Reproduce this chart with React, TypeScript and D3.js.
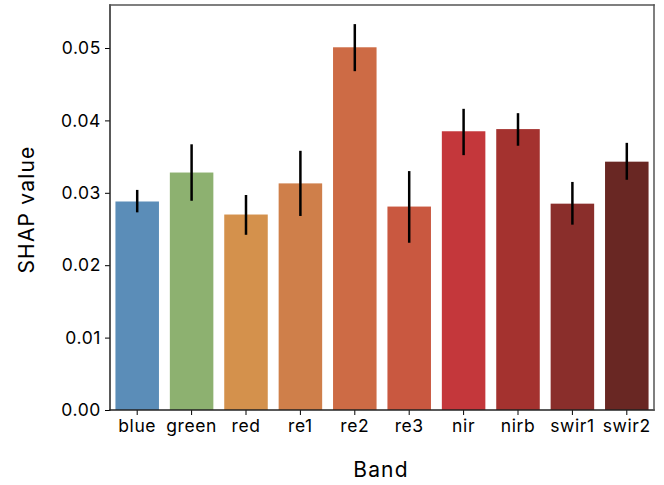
import React, { useRef, useEffect } from "react";
import * as d3 from "d3";

const bands = ["blue", "green", "red", "re1", "re2", "re3", "nir", "nirb", "swir1", "swir2"];
const shapValues = [0.0288, 0.0328, 0.027, 0.0313, 0.0501, 0.0281, 0.0385, 0.0388, 0.0285, 0.0343];
const errLow = [0.0273, 0.0289, 0.0242, 0.0268, 0.0468, 0.0231, 0.0352, 0.0365, 0.0256, 0.0318];
const errHigh = [0.0304, 0.0367, 0.0297, 0.0358, 0.0533, 0.033, 0.0416, 0.041, 0.0315, 0.0369];
const barColors = ["#5b8db8", "#8db170", "#d4914c", "#cf7f4a", "#cd6b45", "#c95840", "#c4373b", "#a4322f", "#8a2e2b", "#692723"];
const yTicks = [0, 0.01, 0.02, 0.03, 0.04, 0.05];

const W = 664;
const H = 485;
const MARGIN = { top: 5, right: 10, bottom: 75, left: 110 };
const FONT = "Inter, 'DejaVu Sans', sans-serif";

export default function App() {
  const ref = useRef<SVGSVGElement>(null);

  useEffect(() => {
    const svg = d3.select(ref.current);
    svg.selectAll("*").remove();

    const innerW = W - MARGIN.left - MARGIN.right;
    const innerH = H - MARGIN.top - MARGIN.bottom;

    const x = d3.scaleBand().domain(bands).range([0, innerW]).paddingInner(0.2).paddingOuter(0.1);
    const y = d3.scaleLinear().domain([0, 0.05594]).range([innerH, 0]);

    const g = svg.append("g").attr("transform", `translate(${MARGIN.left},${MARGIN.top})`);

    g.selectAll("rect.bar")
      .data(bands)
      .join("rect")
      .attr("class", "bar")
      .attr("x", (d) => x(d)!)
      .attr("width", x.bandwidth())
      .attr("y", (d, i) => y(shapValues[i]))
      .attr("height", (d, i) => innerH - y(shapValues[i]))
      .attr("fill", (d, i) => barColors[i]);

    g.selectAll("line.err")
      .data(bands)
      .join("line")
      .attr("class", "err")
      .attr("x1", (d) => x(d)! + x.bandwidth() / 2)
      .attr("x2", (d) => x(d)! + x.bandwidth() / 2)
      .attr("y1", (d, i) => y(errLow[i]))
      .attr("y2", (d, i) => y(errHigh[i]))
      .attr("stroke", "#000")
      .attr("stroke-width", 2.5);

    const yAxis = g.append("g").call(
      d3.axisLeft(y).tickValues(yTicks).tickFormat(d3.format(".2f")).tickSize(5).tickPadding(4)
    );
    const xAxis = g
      .append("g")
      .attr("transform", `translate(0,${innerH})`)
      .call(d3.axisBottom(x).tickSize(5).tickPadding(5));

    [xAxis, yAxis].forEach((a) => {
      a.select(".domain").remove();
      a.selectAll("line").attr("stroke", "#000").attr("stroke-width", 1);
      a.selectAll("text")
        .attr("font-family", FONT)
        .attr("font-size", 17.5)
        .attr("letter-spacing", 0.6)
        .attr("fill", "#000");
    });

    // frame: left and bottom black, top and right grey
    const spines = [
      { x1: 0, y1: 0, x2: 0, y2: innerH, c: "#222" },
      { x1: 0, y1: innerH, x2: innerW, y2: innerH, c: "#222" },
      { x1: 0, y1: 0, x2: innerW, y2: 0, c: "#555" },
      { x1: innerW, y1: 0, x2: innerW, y2: innerH, c: "#555" },
    ];
    g.selectAll("line.spine")
      .data(spines)
      .join("line")
      .attr("class", "spine")
      .attr("x1", (d) => d.x1)
      .attr("y1", (d) => d.y1)
      .attr("x2", (d) => d.x2)
      .attr("y2", (d) => d.y2)
      .attr("stroke", (d) => d.c)
      .attr("stroke-width", 1.5)
      .attr("stroke-linecap", "square");

    svg
      .append("text")
      .attr("x", MARGIN.left + innerW / 2 - 1)
      .attr("y", 477)
      .attr("text-anchor", "middle")
      .attr("font-family", FONT)
      .attr("font-size", 21)
      .attr("letter-spacing", 1.2)
      .text("Band");

    svg
      .append("text")
      .attr("transform", `translate(34,${MARGIN.top + innerH / 2 + 2}) rotate(-90)`)
      .attr("text-anchor", "middle")
      .attr("font-family", FONT)
      .attr("font-size", 21)
      .attr("letter-spacing", 1.2)
      .text("SHAP value");
  }, []);

  return (
    <svg
      ref={ref}
      width={W}
      height={H}
      style={{ display: "block", position: "absolute", left: 0, top: 0, background: "#fff" }}
    />
  );
}
